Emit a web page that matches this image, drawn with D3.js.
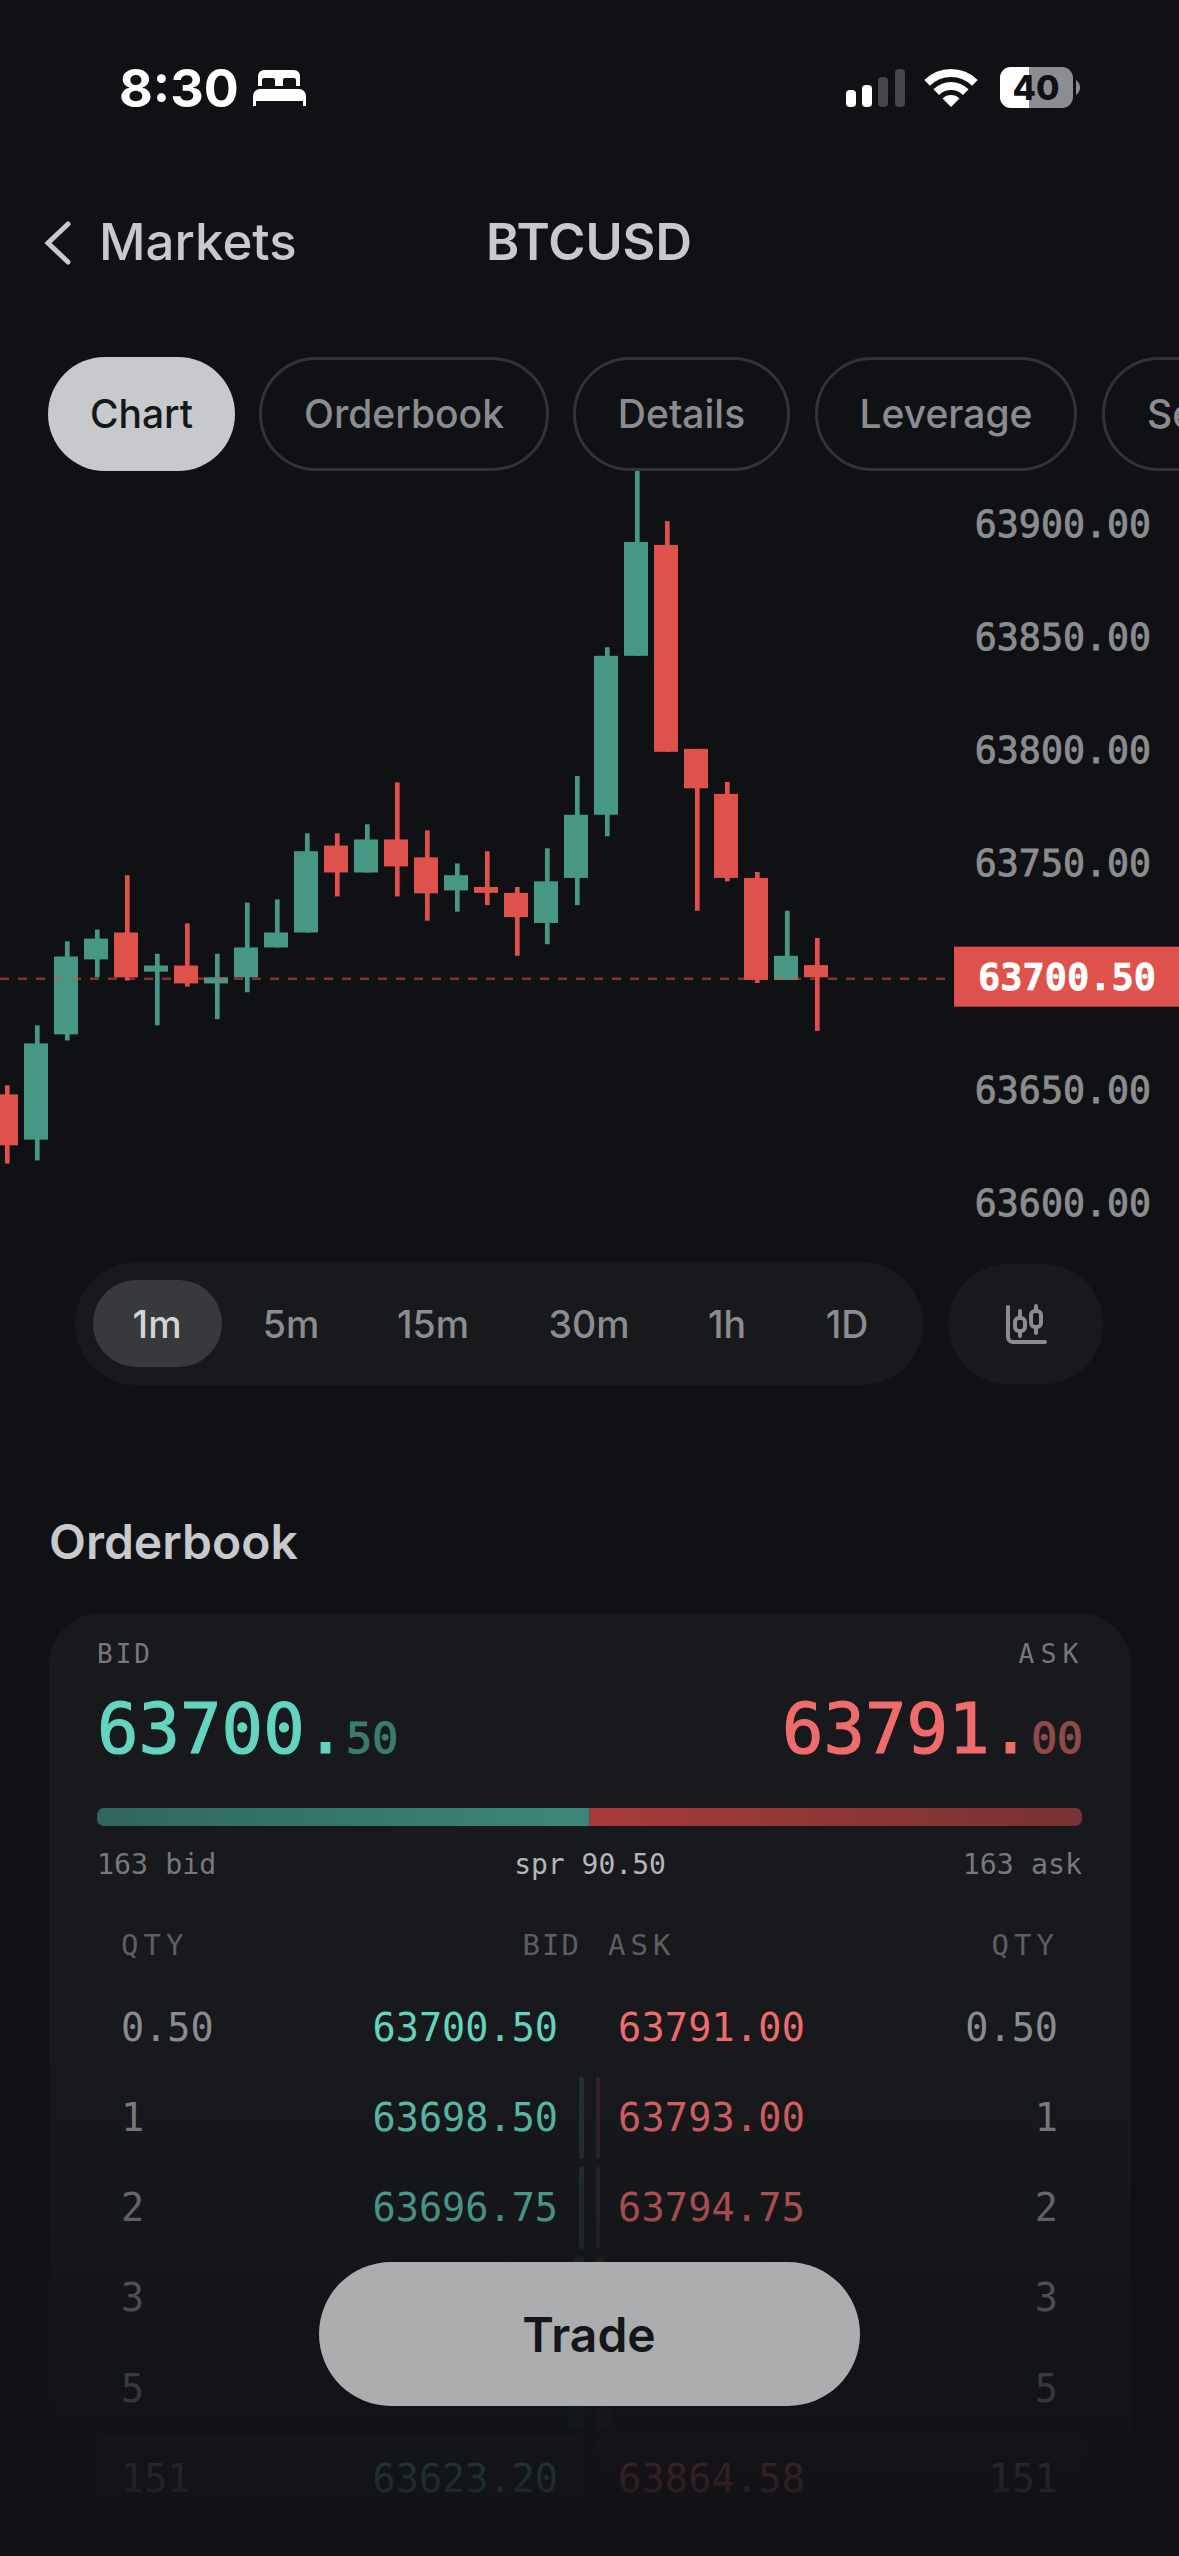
<!DOCTYPE html>
<html>
<head>
	<meta charset="utf-8" />
	<title>BTCUSD</title>
	<script src="https://d3js.org/d3.v7.min.js"></script>
	<style type="text/css">
		html, body { margin: 0; padding: 0; background: #101115; }
		svg { display: block; }
		text { font-family: Inter, sans-serif; }
		.mono { font-family: "DejaVu Sans Mono", monospace; }
	</style>
</head>
<body>
	<div id="chart"></div>
	<script>
		// candles (oldest first)
		const opens  = [63649.4, 63629.4, 63675.9, 63709.0, 63720.9, 63703.6, 63706.3, 63698.4, 63701.1, 63714.3, 63720.9, 63759.3, 63747.4, 63762.0, 63754.1, 63739.5, 63741.0, 63738.4, 63725.1, 63745.0, 63772.9, 63843.1, 63892.1, 63802.0, 63782.1, 63745.0, 63699.9, 63706.5];
		const closes = [63626.9, 63671.9, 63710.3, 63718.2, 63701.1, 63706.3, 63698.4, 63701.1, 63714.3, 63720.9, 63756.8, 63747.4, 63762.0, 63750.1, 63738.2, 63746.2, 63738.4, 63727.7, 63743.5, 63772.9, 63843.1, 63893.4, 63800.7, 63784.6, 63745.0, 63699.9, 63710.6, 63701.1];
		const highs  = [63653.4, 63679.9, 63717.0, 63722.2, 63746.2, 63711.5, 63724.9, 63711.5, 63734.1, 63735.5, 63764.7, 63764.7, 63768.7, 63787.2, 63766.0, 63751.4, 63756.8, 63741.0, 63758.1, 63790.0, 63846.9, 63925.0, 63902.6, 63802.0, 63787.4, 63747.6, 63730.5, 63718.5];
		const lows   = [63618.8, 63620.2, 63673.2, 63701.1, 63699.7, 63679.9, 63697.0, 63682.6, 63694.5, 63714.3, 63720.9, 63736.8, 63747.4, 63736.8, 63726.1, 63730.1, 63733.0, 63710.6, 63715.7, 63733.0, 63763.4, 63843.1, 63800.7, 63730.5, 63743.5, 63698.6, 63699.9, 63677.4];
		const priceTicks = [63900, 63850, 63800, 63750, 63650, 63600];
		const lastPrice = 63700.50;

		const tabs = ["Chart", "Orderbook", "Details", "Leverage", "Se"];
		const timeframes = ["1m", "5m", "15m", "30m", "1h", "1D"];

		// orderbook rows, two prices sit behind the Trade button
		const bookQty   = [0.5, 1, 2, 3, 5, 151];
		const qtyLabels = ["0.50", "1", "2", "3", "5", "151"];
		const bidPrices = ["63700.50", "63698.50", "63696.75", "", "", "63623.20"];
		const askPrices = ["63791.00", "63793.00", "63794.75", "", "", "63864.58"];
		const bidCount = 163;
		const askCount = 163;

		const bg = "#101115", panel = "#18191d", green = "#469884", red = "#de524b";
		const bidColor = "#63d4bf", askColor = "#f06c6c", grey = "#8b8c8f", light = "#c8c9cc";

		const width = 1179, height = 2556;
		const svg = d3.select("#chart").append("svg")
			.attr("width", width).attr("height", height)
			.attr("viewBox", [0, 0, width, height]);
		svg.append("rect").attr("width", width).attr("height", height).attr("fill", bg);

		const label = (parent, x, y, str, size, fill, opts = {}) => {
			return parent.append("text")
				.attr("class", opts.mono ? "mono" : null)
				.attr("x", x).attr("y", y)
				.attr("dy", opts.dy === undefined ? "0.36em" : opts.dy)
				.attr("text-anchor", opts.anchor || "start")
				.attr("font-size", size)
				.attr("font-weight", opts.weight || 400)
				.attr("letter-spacing", opts.spacing || 0)
				.attr("fill", fill)
				.attr("stroke", opts.thick ? fill : null)
				.attr("stroke-width", opts.thick || null)
				.text(str);
		};

		// ---- status bar
		label(svg, 119, 107, "8:30", 52, "#fff", { weight: 700, dy: 0 });
		const bed = svg.append("g").attr("fill", "#fff");
		bed.append("path").attr("d", "M258 86V76a6 6 0 0 1 6-6h30a6 6 0 0 1 6 6v10h-4v-6a2 2 0 0 0-2-2h-9a2 2 0 0 0-2 2v6h-8v-6a2 2 0 0 0-2-2h-9a2 2 0 0 0-2 2v6z");
		bed.append("path").attr("d", "M253 96a7 7 0 0 1 7-7h39a7 7 0 0 1 7 7v10h-3v-5h-47v5h-3z");

		[[846, 90, "#fff"], [862, 85, "#fff"], [878, 77, "#45464a"], [895, 69, "#45464a"]].forEach(b => {
			svg.append("rect").attr("x", b[0]).attr("y", b[1]).attr("width", 10)
				.attr("height", 107 - b[1]).attr("rx", 4).attr("fill", b[2]);
		});
		const wifiArc = d3.arc().startAngle(-0.78).endAngle(0.78);
		[[30, 38], [17, 25], [0, 12]].forEach(r => {
			svg.append("path").attr("transform", "translate(951,107)").attr("fill", "#fff")
				.attr("d", wifiArc({ innerRadius: r[0], outerRadius: r[1] }));
		});
		svg.append("rect").attr("x", 1000).attr("y", 67).attr("width", 73).attr("height", 41).attr("rx", 11).attr("fill", "#8c8d90");
		svg.append("path").attr("fill", "#fff").attr("d", "M1029 67h-18a11 11 0 0 0-11 11v19a11 11 0 0 0 11 11h18z");
		svg.append("path").attr("fill", "#8c8d90").attr("d", "M1076 80a9 9 0 0 1 0 15z");
		label(svg, 1036, 88, "40", 34, "#101115", { weight: 800, anchor: "middle" });

		// ---- nav
		svg.append("path").attr("d", "M68 224L48 243L68 262").attr("fill", "none")
			.attr("stroke", light).attr("stroke-width", 5).attr("stroke-linecap", "round");
		label(svg, 99, 242, "Markets", 51, light, { weight: 500 });
		label(svg, 589, 242, "BTCUSD", 50.5, light, { weight: 600, anchor: "middle" });

		// ---- candles
		const candles = opens.map((o, i) => ({ i, o, c: closes[i], h: highs[i], l: lows[i] }));
		const x = d3.scaleLinear().domain([0, candles.length - 1]).range([6, 816]);
		const y = d3.scaleLinear().domain([63600, 63900]).range([1206.2, 527]);
		const bodyW = 24, wickW = 4.7, wickShift = 1.3;

		const candle = svg.append("g").selectAll("g").data(candles).join("g")
			.attr("fill", d => d.c >= d.o ? green : red);
		candle.append("rect")
			.attr("x", d => x(d.i) + wickShift - wickW / 2).attr("width", wickW)
			.attr("y", d => y(d.h)).attr("height", d => y(d.l) - y(d.h));
		candle.append("rect")
			.attr("x", d => x(d.i) - bodyW / 2).attr("width", bodyW)
			.attr("y", d => y(Math.max(d.o, d.c)))
			.attr("height", d => Math.abs(y(d.o) - y(d.c)));

		svg.append("line")
			.attr("x1", 0).attr("x2", 946)
			.attr("y1", y(lastPrice)).attr("y2", y(lastPrice))
			.attr("stroke", red).attr("stroke-opacity", 0.55).attr("stroke-width", 2.5)
			.attr("stroke-dasharray", "9 9");

		// price axis, labels sit a few px above the real level in the original
		const axis = d3.axisRight(y).tickValues(priceTicks).tickSize(0).tickFormat(d3.format(".2f"));
		const axisG = svg.append("g").attr("transform", "translate(1151,0)").call(axis);
		axisG.select(".domain").remove();
		axisG.selectAll("text")
			.attr("class", "mono").attr("x", 0).attr("dy", "0.36em")
			.attr("y", -4)
			.attr("text-anchor", "end")
			.attr("font-size", 36.6).attr("fill", grey)
			.attr("stroke", grey).attr("stroke-width", 0.9)
			.attr("font-family", null);

		svg.append("rect").attr("x", 954).attr("width", 225)
			.attr("y", y(lastPrice) - 32).attr("height", 60).attr("fill", red);
		label(svg, 1067, y(lastPrice) - 2, d3.format(".2f")(lastPrice), 37, "#fff", { mono: true, weight: 700, anchor: "middle", thick: 0.6 });

		// ---- tabs
		const tabBoxes = [[48, 187], [259, 290], [573, 217], [815, 262], [1102, 140]];
		tabs.forEach((t, i) => {
			const b = tabBoxes[i], on = i === 0;
			svg.append("rect").attr("x", on ? b[0] : b[0] + 1.5).attr("y", on ? 357 : 358.5)
				.attr("width", on ? b[1] : b[1] - 3).attr("height", on ? 114 : 111).attr("rx", on ? 57 : 55.5)
				.attr("fill", on ? light : bg).attr("stroke", on ? "none" : "#323337").attr("stroke-width", 3);
			if (t === "Se") label(svg, 1147, 414, t, 39, grey, { weight: 500 });
			else label(svg, b[0] + b[1] / 2, 414, t, 39, on ? "#16171a" : grey, { weight: 500, anchor: "middle" });
		});

		// ---- timeframe bar
		svg.append("rect").attr("x", 75).attr("y", 1262).attr("width", 848).attr("height", 123).attr("rx", 61.5).attr("fill", panel);
		svg.append("rect").attr("x", 93).attr("y", 1280).attr("width", 129).attr("height", 87).attr("rx", 43.5).attr("fill", "#38393c");
		const tfCenters = [157, 291, 433, 589, 727, 847];
		timeframes.forEach((t, i) => {
			label(svg, tfCenters[i], 1324, t, 37.5, i === 0 ? "#d4d5d7" : grey, { weight: 500, anchor: "middle" });
		});
		svg.append("rect").attr("x", 948).attr("y", 1264).attr("width", 155).attr("height", 120).attr("rx", 60).attr("fill", panel);
		const icon = svg.append("g").attr("fill", "none").attr("stroke", grey).attr("stroke-width", 4).attr("stroke-linecap", "round");
		icon.append("path").attr("d", "M1008 1307V1337a5 5 0 0 0 5 5H1045");
		icon.append("rect").attr("x", 1015).attr("y", 1318).attr("width", 10).attr("height", 13).attr("rx", 4);
		icon.append("path").attr("d", "M1020 1311V1318M1020 1331V1336");
		icon.append("rect").attr("x", 1031).attr("y", 1311).attr("width", 10).attr("height", 16).attr("rx", 4);
		icon.append("path").attr("d", "M1036 1306V1311M1036 1327V1333");

		// ---- orderbook
		label(svg, 49, 1542, "Orderbook", 48, light, { weight: 600 });
		svg.append("rect").attr("x", 49).attr("y", 1613).attr("width", 1082).attr("height", 1000).attr("rx", 52).attr("fill", panel);

		label(svg, 97, 1654, "BID", 26, "#77787c", { mono: true, spacing: 3 });
		label(svg, 1085, 1654, "ASK", 26, "#77787c", { mono: true, spacing: 6.5, anchor: "end" });

		const big = label(svg, 97, 1753, "", 69, bidColor, { mono: true, dy: 0, thick: 1.2 });
		big.append("tspan").text("63700.");
		big.append("tspan").attr("font-size", 43).attr("fill", "#3a7d70").attr("stroke", "#3a7d70").text("50");
		const bigAsk = label(svg, 1083, 1753, "", 69, askColor, { mono: true, dy: 0, anchor: "end", thick: 1.2 });
		bigAsk.append("tspan").text("63791.");
		bigAsk.append("tspan").attr("font-size", 43).attr("fill", "#8f4a4a").attr("stroke", "#8f4a4a").text("00");

		const grad = (id, from, to) => {
			const g = svg.append("linearGradient").attr("id", id);
			g.append("stop").attr("offset", "0%").attr("stop-color", from);
			g.append("stop").attr("offset", "100%").attr("stop-color", to);
		};
		grad("bidBar", "#2f665d", "#3c8878");
		grad("askBar", "#a83a3a", "#773232");

		const split = d3.scaleLinear().domain([0, bidCount + askCount]).range([97, 1082]);
		svg.append("clipPath").attr("id", "barClip").append("rect")
			.attr("x", 97).attr("y", 1808).attr("width", 985).attr("height", 18).attr("rx", 7);
		const bar = svg.append("g").attr("clip-path", "url(#barClip)");
		bar.append("rect").attr("x", split(0)).attr("y", 1808).attr("width", split(bidCount) - split(0)).attr("height", 18).attr("fill", "url(#bidBar)");
		bar.append("rect").attr("x", split(bidCount)).attr("y", 1808).attr("width", split(bidCount + askCount) - split(bidCount)).attr("height", 18).attr("fill", "url(#askBar)");

		label(svg, 97, 1864, bidCount + " bid", 28.3, "#77787c", { mono: true });
		label(svg, 590, 1864, "spr 90.50", 28, "#b5b6b8", { mono: true, anchor: "middle" });
		label(svg, 1082, 1864, askCount + " ask", 28.3, "#77787c", { mono: true, anchor: "end" });

		label(svg, 121, 1945, "QTY", 29, "#5d5e62", { mono: true, spacing: 5 });
		label(svg, 581, 1945, "BID", 29, "#5d5e62", { mono: true, spacing: 2, anchor: "end" });
		label(svg, 608, 1945, "ASK", 29, "#5d5e62", { mono: true, spacing: 5 });
		label(svg, 1059, 1945, "QTY", 29, "#5d5e62", { mono: true, spacing: 5, anchor: "end" });

		const rowY = d3.scaleLinear().domain([0, bookQty.length - 1]).range([2027, 2478]);
		// depth bars measured on the picture, the smallest rows share a minimum width
		const depth = d3.scaleLinear().domain([0, 1, 2, 3, 5, 151]).range([0, 5, 5, 10, 15, 489]);
		// bars fade out faster than the text does towards the bottom
		const barAlpha = d3.scaleLinear().domain([2, 5]).range([0.15, 0.06]).clamp(true);
		const rows = svg.append("g").selectAll("g").data(bookQty).join("g");
		rows.filter(d => d >= 1).append("rect")
			.attr("x", d => 584 - depth(d)).attr("width", d => depth(d))
			.attr("y", d => rowY(bookQty.indexOf(d)) - 41).attr("height", 83).attr("rx", 4)
			.attr("fill", bidColor).attr("fill-opacity", d => barAlpha(bookQty.indexOf(d)));
		rows.filter(d => d >= 1).append("rect")
			.attr("x", 596).attr("width", d => depth(d) - 1)
			.attr("y", d => rowY(bookQty.indexOf(d)) - 41).attr("height", 83).attr("rx", 4)
			.attr("fill", askColor).attr("fill-opacity", d => barAlpha(bookQty.indexOf(d)));
		rows.each(function (d, i) {
			const r = d3.select(this);
			label(r, 121, rowY(i), qtyLabels[i], 38.5, grey, { mono: true });
			label(r, 1058, rowY(i), qtyLabels[i], 38.5, grey, { mono: true, anchor: "end" });
			label(r, 558, rowY(i), bidPrices[i], 38.5, bidColor, { mono: true, anchor: "end" });
			label(r, 618, rowY(i), askPrices[i], 38.5, askColor, { mono: true, spacing: 0.2 });
		});

		// fade at the bottom of the screen
		const fade = svg.append("linearGradient").attr("id", "fade").attr("x1", 0).attr("x2", 0).attr("y1", 0).attr("y2", 1);
		fade.append("stop").attr("offset", "0%").attr("stop-color", bg).attr("stop-opacity", 0);
		fade.append("stop").attr("offset", "85%").attr("stop-color", bg).attr("stop-opacity", 0.85);
		fade.append("stop").attr("offset", "100%").attr("stop-color", bg).attr("stop-opacity", 1);
		svg.append("rect").attr("x", 0).attr("y", 2030).attr("width", width).attr("height", 526).attr("fill", "url(#fade)");

		// trade button
		svg.append("rect").attr("x", 319).attr("y", 2262).attr("width", 541).attr("height", 144).attr("rx", 72).attr("fill", "#abadaf");
		label(svg, 589, 2335, "Trade", 48, "#15161a", { weight: 600, anchor: "middle" });
	</script>
</body>
</html>
